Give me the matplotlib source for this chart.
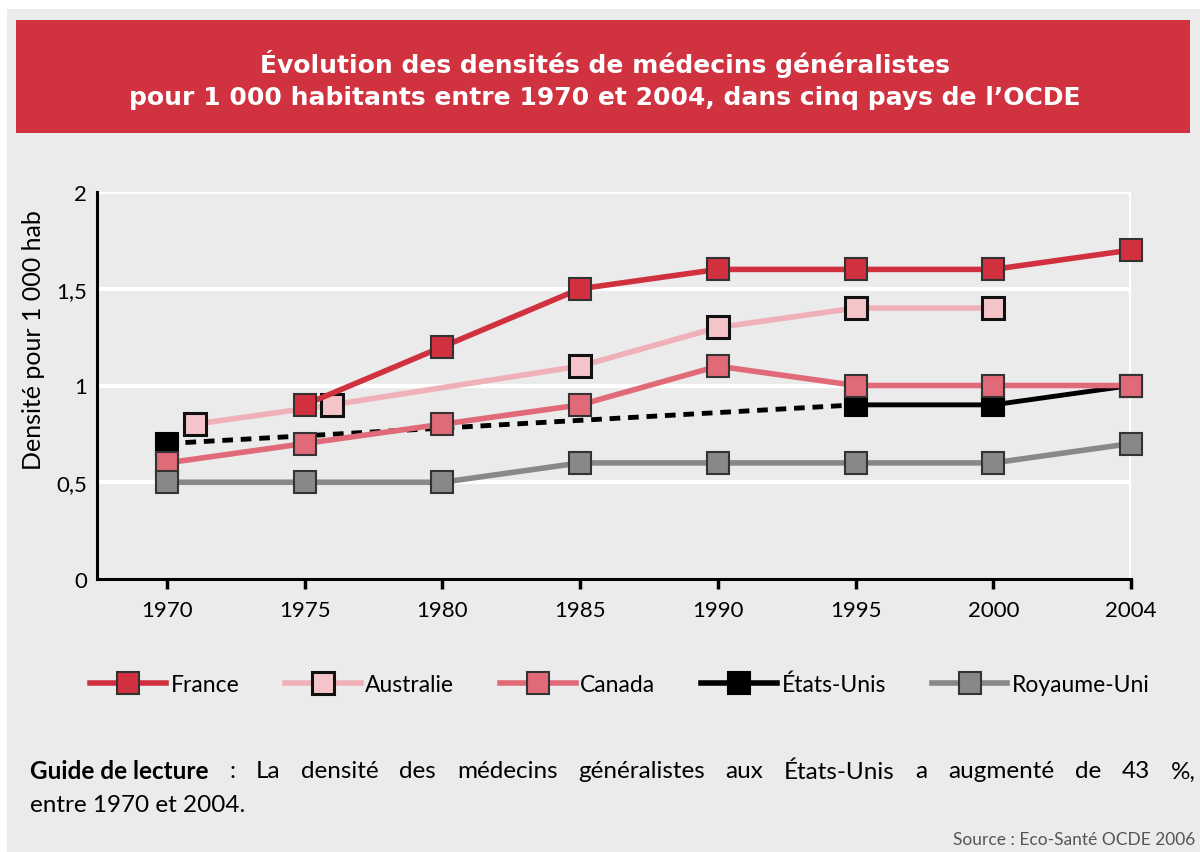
import numpy as np
import matplotlib
matplotlib.use("Agg")
import matplotlib.pyplot as plt
from matplotlib.patches import Rectangle
from matplotlib.lines import Line2D

# ---- data ----
tick_years = [1970, 1975, 1980, 1985, 1990, 1995, 2000, 2004]
tick_labels = ["1970", "1975", "1980", "1985", "1990", "1995", "2000", "2004"]

france_years = [1975, 1980, 1985, 1990, 1995, 2000, 2004]
france_vals = [0.9, 1.2, 1.5, 1.6, 1.6, 1.6, 1.7]

australie_years = [1971, 1976, 1985, 1990, 1995, 2000]
australie_vals = [0.8, 0.9, 1.1, 1.3, 1.4, 1.4]

canada_years = [1970, 1975, 1980, 1985, 1990, 1995, 2000, 2004]
canada_vals = [0.6, 0.7, 0.8, 0.9, 1.1, 1.0, 1.0, 1.0]

usa_years = [1970, 1995, 2000, 2004]
usa_vals = [0.7, 0.9, 0.9, 1.0]

uk_years = [1970, 1975, 1980, 1985, 1990, 1995, 2000, 2004]
uk_vals = [0.5, 0.5, 0.5, 0.6, 0.6, 0.6, 0.6, 0.7]

y_ticks = [0, 0.5, 1, 1.5, 2]
y_tick_labels = ["0", "0,5", "1", "1,5", "2"]

title = "Évolution des densités de médecins généralistes\npour 1 000 habitants entre 1970 et 2004, dans cinq pays de l’OCDE"
ylabel = "Densité pour 1 000 hab"
guide_bold = "Guide de lecture"
guide_rest = ": La densité des médecins généralistes aux États-Unis a augmenté de 43 %,"
guide_line2 = "entre 1970 et 2004."
source = "Source : Eco-Santé OCDE 2006"

# ---- style ----
C_FR = "#d1303f"
C_AU_LINE = "#efb0b8"
C_AU_FILL = "#f4c4c9"
C_CA = "#e06a77"
C_US = "#000000"
C_UK = "#888888"
BG = "#ebebeb"

txtfont = ["Lato", "DejaVu Sans"]

def pos(years):
    return np.interp(years, tick_years, np.arange(len(tick_years)))

W, H = 1200, 853
fig = plt.figure(figsize=(W / 100, H / 100), dpi=100)
fig.patch.set_facecolor("white")
fig.patches.append(Rectangle((7 / W, 0), 1, 1 - 10 / H, transform=fig.transFigure,
                             facecolor=BG, edgecolor="none", zorder=-10))
fig.patches.append(Rectangle((16 / W, 1 - 134 / H), (1190 - 16) / W, 113 / H,
                             transform=fig.transFigure, facecolor="#d0323f",
                             edgecolor="none", zorder=-5))
fig.text(605 / W, 1 - 80 / H, title, ha="center", va="center", color="white",
         fontsize=18, fontweight="bold", family=["DejaVu Sans"],
         linespacing=1.45)

ax_bottom = 1 - 580 / H
ax_h = 2 * 193.5 / H
ax = fig.add_axes([97 / W, ax_bottom, (1131 - 97) / W, ax_h])
ax.set_facecolor(BG)
ax.set_xlim(-0.508, 7)
ax.set_ylim(0, 2)

for y in y_ticks[1:]:
    ax.axhline(y, color="white", lw=3, zorder=0)
ax.axvline(7, color="white", lw=3, zorder=0)

for s in ["top", "right"]:
    ax.spines[s].set_visible(False)
for s in ["left", "bottom"]:
    ax.spines[s].set_linewidth(2.2)
    ax.spines[s].set_color("black")

ax.set_xticks(pos(tick_years))
ax.set_xticklabels(tick_labels, fontsize=16, family=txtfont)
ax.tick_params(axis="x", direction="out", length=7, width=2.5, pad=8)
ax.set_yticks(y_ticks)
ax.set_yticklabels(y_tick_labels, fontsize=16, family=txtfont)
ax.tick_params(axis="y", length=0, pad=7)
ax.set_ylabel(ylabel, fontsize=18, family=txtfont)
ax.yaxis.set_label_coords(-0.05, 0.62)

ms = 16.5
mew = 1.5

# USA
ux = pos(usa_years)
ax.plot(ux[:2], usa_vals[:2], color=C_US, lw=3.5, ls=(0, (2.2, 1.6)),
        zorder=2, clip_on=False)
ax.plot(ux[1:], usa_vals[1:], color=C_US, lw=3.5, zorder=2, clip_on=False)
ax.plot(ux, usa_vals, ls="none", marker="s", ms=ms, mfc=C_US, mec=C_US,
        mew=mew, zorder=3, clip_on=False)
# Canada
ax.plot(pos(canada_years), canada_vals, color=C_CA, lw=4, marker="s", ms=ms,
        mfc=C_CA, mec="#333333", mew=mew, zorder=4, clip_on=False)
# UK
ax.plot(pos(uk_years), uk_vals, color=C_UK, lw=4, marker="s", ms=ms,
        mfc=C_UK, mec="#333333", mew=mew, zorder=5, clip_on=False)
# Australia
ax.plot(pos(australie_years), australie_vals, color=C_AU_LINE, lw=4, marker="s",
        ms=ms, mfc=C_AU_FILL, mec="#111111", mew=2.2, zorder=6, clip_on=False)
# France
ax.plot(pos(france_years), france_vals, color=C_FR, lw=4, marker="s", ms=ms,
        mfc=C_FR, mec="#333333", mew=mew, zorder=7, clip_on=False)

handles = [
    Line2D([], [], color=C_FR, lw=4, marker="s", ms=ms, mfc=C_FR, mec="#333333", mew=mew),
    Line2D([], [], color=C_AU_LINE, lw=4, marker="s", ms=ms, mfc=C_AU_FILL, mec="#111111", mew=2.2),
    Line2D([], [], color=C_CA, lw=4, marker="s", ms=ms, mfc=C_CA, mec="#333333", mew=mew),
    Line2D([], [], color=C_US, lw=4, marker="s", ms=ms, mfc=C_US, mec=C_US, mew=mew),
    Line2D([], [], color=C_UK, lw=4, marker="s", ms=ms, mfc=C_UK, mec="#333333", mew=mew),
]
labels = ["France", "Australie", "Canada", "États-Unis", "Royaume-Uni"]
fig.legend(handles, labels, loc="center", bbox_to_anchor=(620 / W, 1 - 685 / H),
           ncol=5, frameon=False, handlelength=3.3, handletextpad=0.2,
           columnspacing=2.0, prop={"family": txtfont, "size": 16.5})

# footnote, justified first line
fs = 17.5
fig.canvas.draw()
r = fig.canvas.get_renderer()
y1 = 1 - 772 / H
words = [(guide_bold, "bold")] + [(w, "normal") for w in guide_rest.split(" ")]
texts = []
total = 0.0
for w, wt in words:
    t = fig.text(0, y1, w, fontsize=fs, fontweight=wt, family=txtfont,
                 va="center", ha="left")
    wbb = t.get_window_extent(renderer=r)
    texts.append((t, wbb.width))
    total += wbb.width
x_start, x_end = 30, 1196
gap = (x_end - x_start - total) / (len(texts) - 1)
x = x_start
for t, wdt in texts:
    t.set_x(x / W)
    x += wdt + gap
fig.text(30 / W, 1 - 806 / H, guide_line2, fontsize=fs, family=txtfont,
         va="center", ha="left")
fig.text(1195 / W, 1 - 840 / H, source, fontsize=12.5, family=txtfont,
         color="#555555", va="center", ha="right")

fig.savefig("out.png", dpi=100, facecolor=fig.get_facecolor())
